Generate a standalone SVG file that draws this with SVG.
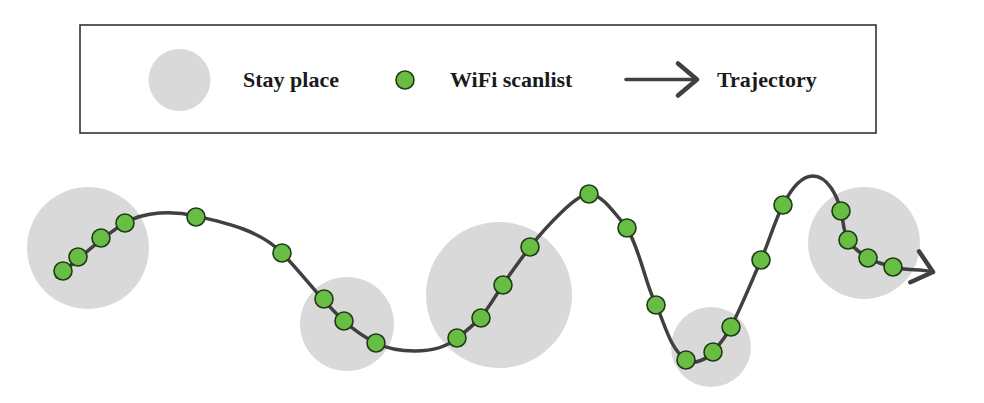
<svg xmlns="http://www.w3.org/2000/svg" width="984" height="403" viewBox="0 0 984 403">
<style>
.stay{fill:#d9d9d9;stroke:none}
.dot{fill:#68bd45;stroke:#1f3a14;stroke-width:1.6}
.traj{fill:none;stroke:#404040;stroke-width:3.5;stroke-linecap:round}
.lbl{font-family:"Liberation Serif","Times New Roman",serif;font-weight:bold;font-size:22px;fill:#1a1a1a}
</style>
<defs>
<marker id="chev" markerUnits="userSpaceOnUse" markerWidth="40" markerHeight="40" viewBox="-30 -20 40 40" refX="0" refY="0" orient="auto">
<path d="M-19,-16 L0,0 L-19,16" fill="none" stroke="#404040" stroke-width="4.5" stroke-linecap="round" stroke-linejoin="round"/>
</marker>
</defs>
<rect width="984" height="403" fill="#ffffff"/>
<g id="legend">
<rect x="80" y="25" width="796" height="108" fill="none" stroke="#333333" stroke-width="1.6"/>
<circle class="stay" cx="179.5" cy="80" r="31"/>
<text class="lbl" x="243" y="87">Stay place</text>
<circle class="dot" cx="405" cy="80" r="9"/>
<text class="lbl" x="450" y="87">WiFi scanlist</text>
<path class="traj" d="M626,79.5 L697,79.5" stroke-width="5" marker-end="url(#chev)"/>
<text class="lbl" x="717" y="87">Trajectory</text>
</g>
<g id="stay-places">
<circle id="stay1" class="stay" cx="88" cy="248" r="61"/>
<circle id="stay2" class="stay" cx="347" cy="324" r="47"/>
<circle id="stay3" class="stay" cx="499" cy="295" r="73"/>
<circle id="stay4" class="stay" cx="711" cy="347" r="40"/>
<circle id="stay5" class="stay" cx="864" cy="243" r="56"/>
</g>
<g id="connectors">
<path class="traj" marker-end="url(#chev)" d="M57,277 C79.5,259.1 100.4,237.5 125,223 C145.2,211.1 172.9,210.8 196,216 C226.3,222.9 260.2,230.5 282,253 C303.5,275.1 321.3,300.4 344,321 C353.5,329.6 364.5,337.2 376,343 C387.8,349 401.7,351 415,351 C429.7,351 446,347.7 457,338 C465.2,331.9 473.2,325.5 480,318 C488.6,308.5 494.9,296.8 502,286 C510.8,272.6 520.4,259.8 530,247 C546,226.7 577,193.4 589,194 C601,194.6 610,207 627,228 C640.7,251.7 644.2,280.3 656,305 C665,323.8 669.3,347.5 686,360 C693.5,365.6 706.9,359.1 713,352 C719.7,344.2 726.4,336.2 731,327 C742,305.2 751.2,282.5 761,260 C768.9,241.9 774.1,222.5 783,205 C789.3,192.6 799.1,176 813,176 C827.9,176 837.3,196.5 841,211 C843.5,220.6 843,231.4 848,240 C852.5,247.8 860.3,253.2 868,258 C875.6,262.7 884.5,264.3 893,267 C905.7,271 920.3,268.4 933,272"/>
</g>
<g id="scans">
<circle id="s1" class="dot" cx="63" cy="271" r="9"/>
<circle id="s2" class="dot" cx="78" cy="257" r="9"/>
<circle id="s3" class="dot" cx="101" cy="238" r="9"/>
<circle id="s4" class="dot" cx="125" cy="223" r="9"/>
<circle id="s5" class="dot" cx="196" cy="217" r="9"/>
<circle id="s6" class="dot" cx="282" cy="253" r="9"/>
<circle id="s7" class="dot" cx="324" cy="299" r="9"/>
<circle id="s8" class="dot" cx="344" cy="321" r="9"/>
<circle id="s9" class="dot" cx="376" cy="343" r="9"/>
<circle id="s10" class="dot" cx="457" cy="338" r="9"/>
<circle id="s11" class="dot" cx="481" cy="318" r="9"/>
<circle id="s12" class="dot" cx="503" cy="285" r="9"/>
<circle id="s13" class="dot" cx="530" cy="247" r="9"/>
<circle id="s14" class="dot" cx="589" cy="194" r="9"/>
<circle id="s15" class="dot" cx="627" cy="228" r="9"/>
<circle id="s16" class="dot" cx="656" cy="305" r="9"/>
<circle id="s17" class="dot" cx="686" cy="360" r="9"/>
<circle id="s18" class="dot" cx="713" cy="352" r="9"/>
<circle id="s19" class="dot" cx="731" cy="327" r="9"/>
<circle id="s20" class="dot" cx="761" cy="260" r="9"/>
<circle id="s21" class="dot" cx="783" cy="205" r="9"/>
<circle id="s22" class="dot" cx="841" cy="211" r="9"/>
<circle id="s23" class="dot" cx="848" cy="240" r="9"/>
<circle id="s24" class="dot" cx="868" cy="258" r="9"/>
<circle id="s25" class="dot" cx="893" cy="267" r="9"/>
</g>
</svg>
